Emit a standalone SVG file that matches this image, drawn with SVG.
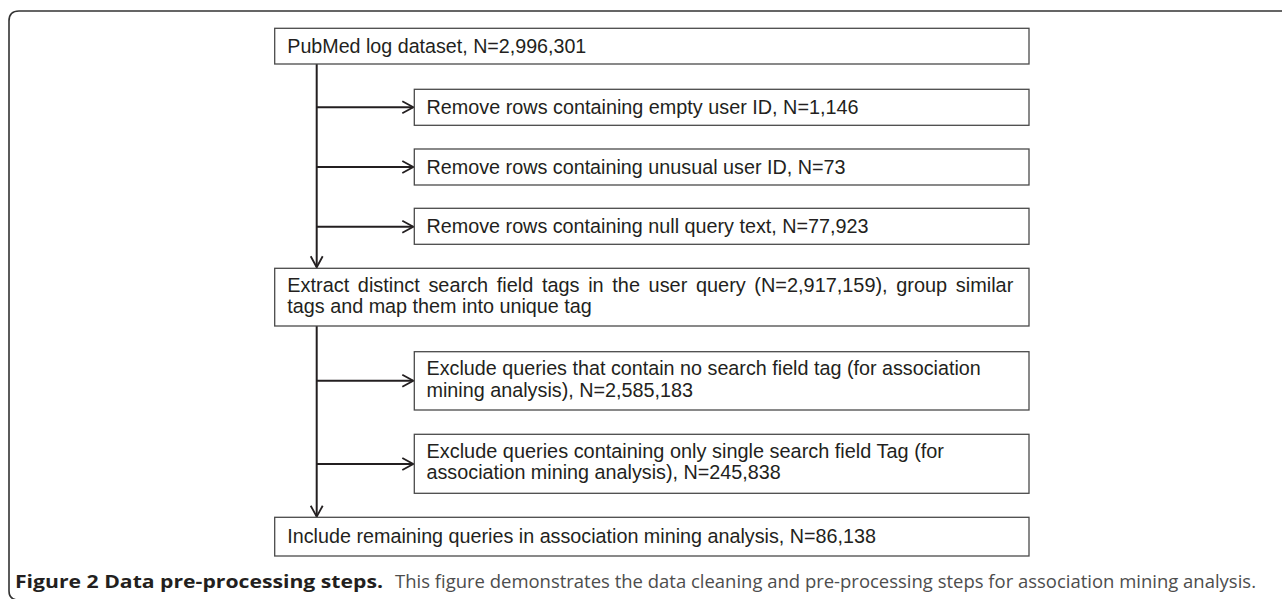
<svg xmlns="http://www.w3.org/2000/svg" width="1282" height="599" viewBox="0 0 1282 599">
<style>
.box{fill:#fff;stroke:#4a4a4a;stroke-width:1.3}
.t{font-family:"Liberation Sans",Arial,Helvetica,sans-serif;font-size:20.5px;fill:#231f20}
.c{fill:none;stroke:#231f20;stroke-width:2}
.cap{font-family:"Open Sans","Noto Sans",sans-serif;font-size:18px}
</style>
<defs>
<marker id="ah" markerUnits="userSpaceOnUse" markerWidth="14" markerHeight="14" refX="11.5" refY="6" orient="auto" overflow="visible">
<path d="M0.5,0 L11.5,6 L0.5,12" fill="none" stroke="#231f20" stroke-width="1.8"/>
</marker>
</defs>
<path d="M1290,11 H19 Q9,11 9,21 V591 Q9,599 17,600" fill="none" stroke="#333" stroke-width="1.6"/>
<g id="connectors">
<path class="c" d="M316.7,64 V267.3" marker-end="url(#ah)"/>
<path class="c" d="M316.7,326 V516.7" marker-end="url(#ah)"/>
<path class="c" d="M316.7,107.3 H413.3" marker-end="url(#ah)"/>
<path class="c" d="M316.7,167 H413.3" marker-end="url(#ah)"/>
<path class="c" d="M316.7,226.7 H413.3" marker-end="url(#ah)"/>
<path class="c" d="M316.7,380.7 H413.3" marker-end="url(#ah)"/>
<path class="c" d="M316.7,464 H413.3" marker-end="url(#ah)"/>
</g>
<g id="n1"><rect class="box" x="274.7" y="28.3" width="754.3" height="35.7"/><text class="t" x="287.3" y="53" textLength="299" lengthAdjust="spacingAndGlyphs">PubMed log dataset, N=2,996,301</text></g>
<g id="n2"><rect class="box" x="414.3" y="89.3" width="614.7" height="36"/><text class="t" x="426.5" y="114" textLength="432" lengthAdjust="spacingAndGlyphs">Remove rows containing empty user ID, N=1,146</text></g>
<g id="n3"><rect class="box" x="414.3" y="149" width="614.7" height="36"/><text class="t" x="426.5" y="173.7" textLength="419" lengthAdjust="spacingAndGlyphs">Remove rows containing unusual user ID, N=73</text></g>
<g id="n4"><rect class="box" x="414.3" y="208.3" width="614.7" height="36"/><text class="t" x="426.5" y="233" textLength="442" lengthAdjust="spacingAndGlyphs">Remove rows containing null query text, N=77,923</text></g>
<g id="n5"><rect class="box" x="274.7" y="268.3" width="754.3" height="57.7"/><text class="t" x="287.3" y="291.7" word-spacing="3.2" textLength="726" lengthAdjust="spacingAndGlyphs">Extract distinct search field tags in the user query (N=2,917,159), group similar</text><text class="t" x="287.3" y="313.3" textLength="304.5" lengthAdjust="spacingAndGlyphs">tags and map them into unique tag</text></g>
<g id="n6"><rect class="box" x="414.3" y="351.7" width="614.7" height="58.3"/><text class="t" x="426.5" y="375" textLength="554.3" lengthAdjust="spacingAndGlyphs">Exclude queries that contain no search field tag (for association</text><text class="t" x="426.5" y="396.7" textLength="266.5" lengthAdjust="spacingAndGlyphs">mining analysis), N=2,585,183</text></g>
<g id="n7"><rect class="box" x="414.3" y="434.3" width="614.7" height="59"/><text class="t" x="426.5" y="457.7" textLength="517.5" lengthAdjust="spacingAndGlyphs">Exclude queries containing only single search field Tag (for</text><text class="t" x="426.5" y="479.3" textLength="354.3" lengthAdjust="spacingAndGlyphs">association mining analysis), N=245,838</text></g>
<g id="n8"><rect class="box" x="274.7" y="517.3" width="754.3" height="38.7"/><text class="t" x="287.3" y="543" textLength="588.6" lengthAdjust="spacingAndGlyphs">Include remaining queries in association mining analysis, N=86,138</text></g>
<g id="caption">
<text class="cap" x="15" y="588" font-weight="bold" fill="#231f20" textLength="368" lengthAdjust="spacingAndGlyphs">Figure 2 Data pre-processing steps.</text>
<text class="cap" x="395" y="588" fill="#4d4d4d" textLength="861" lengthAdjust="spacingAndGlyphs">This figure demonstrates the data cleaning and pre-processing steps for association mining analysis.</text>
</g>
</svg>
